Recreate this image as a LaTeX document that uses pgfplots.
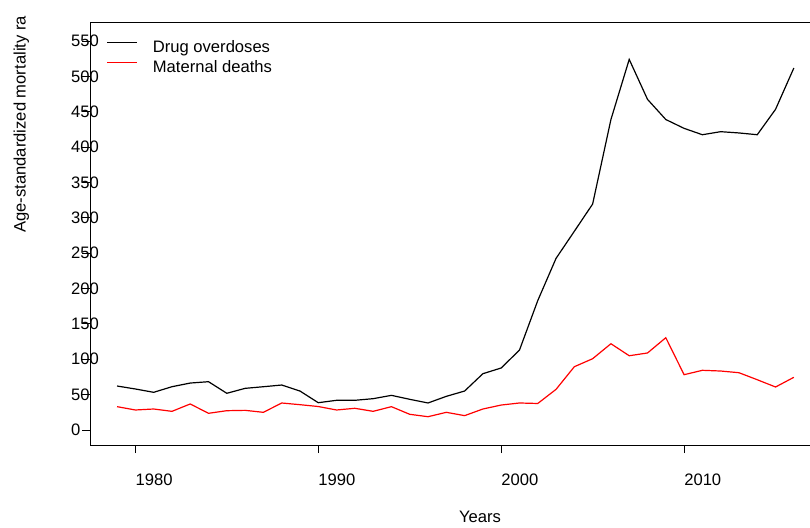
\documentclass[border=0pt]{standalone}
\usepackage{fontspec}
\setmainfont{Liberation Sans}
\usepackage{pgfplots}
\usepackage{pgfplotstable}
\pgfplotsset{compat=1.18}
\pgfplotstableread{
year value
1979 62.2
1980 58
1981 53.3
1982 61.2
1983 66.4
1984 68.3
1985 51.9
1986 58.9
1987 61.2
1988 63.6
1989 55.1
1990 38.6
1991 42
1992 42
1993 44.3
1994 49
1995 43.4
1996 38.2
1997 47.6
1998 55.1
1999 79.6
2000 87.7
2001 113
2002 183
2003 242.7
2004 281
2005 319.5
2006 439
2007 524
2008 467.5
2009 439
2010 426.5
2011 417.5
2012 421.8
2013 420
2014 417.5
2015 453.4
2016 511.8
}\drugs
\pgfplotstableread{
year value
1979 33
1980 28.3
1981 29.7
1982 26.4
1983 36.8
1984 23.6
1985 27.3
1986 27.8
1987 25
1988 38.2
1989 35.8
1990 33.2
1991 28.3
1992 30.7
1993 26.4
1994 33
1995 22.2
1996 18.8
1997 25
1998 20.3
1999 29.7
2000 35.3
2001 38.2
2002 37.5
2003 57.5
2004 89.5
2005 100.8
2006 122
2007 105
2008 108.9
2009 130.5
2010 78.2
2011 84.4
2012 83.4
2013 81
2014 71.1
2015 60.8
2016 74.5
}\maternal
\newcommand{\chartfont}{\fontsize{16.6}{20}\selectfont}
\begin{document}
\begin{tikzpicture}[x=1pt,y=1pt]
\useasboundingbox (0,0) rectangle (810,527);
\begin{axis}[
  at={(90pt,82pt)}, anchor=south west,
  scale only axis, width=730.9pt, height=422.3pt,
  xmin=1977.52, xmax=2017.48, ymin=-21.2, ymax=575.9,
  axis line style={line width=0.9pt, black},
  tick style={line width=0.9pt, black},
  major tick length=8pt,
  tick align=outside,
  xtick pos=bottom, ytick pos=left,
  xtick={1980,1990,2000,2010},
  ytick={0,50,...,550},
  /pgf/number format/assume math mode=true,
  /pgf/number format/1000 sep={},
  tick label style={font=\chartfont},
  xticklabel style={anchor=north west, inner sep=0pt, yshift=-21pt},
  yticklabel style={anchor=west, inner sep=0pt, xshift=-11pt},
  xlabel={Years},
  ylabel={Age-standardized mortality ra},
  label style={font=\chartfont, inner sep=0pt},
  xlabel style={at={(axis description cs:0.5336,-0.1847)}, anchor=base},
  ylabel style={at={(axis description cs:-0.0882,0.502)}, anchor=base west},
  legend cell align=left,
  legend style={draw=none, fill=none, inner sep=0pt, outer sep=0pt,
    at={(axis description cs:0.02285,0.9634)}, anchor=north west,
    font=\chartfont, row sep=3pt,
    /tikz/every odd column/.append style={column sep=13pt}},
  legend image code/.code={\draw[#1, line width=1.2pt] (0pt,4.7pt) -- (30pt,4.7pt);},
]
\addplot[black, line width=1.2pt] table[x=year, y=value] {\drugs};
\addlegendentry{\vphantom{Dg}Drug overdoses}
\addplot[red, line width=1.2pt] table[x=year, y=value] {\maternal};
\addlegendentry{\vphantom{Dg}Maternal deaths}
\end{axis}
\end{tikzpicture}
\end{document}
